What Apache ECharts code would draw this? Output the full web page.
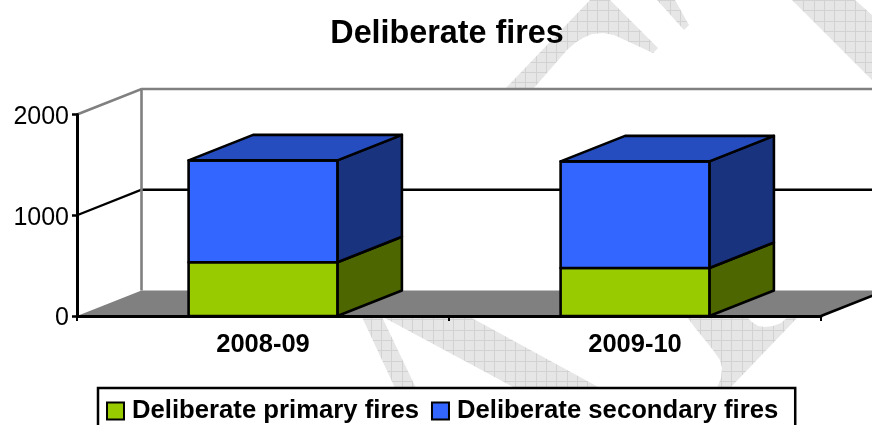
<!DOCTYPE html>
<html><head><meta charset="utf-8">
<style>html,body{margin:0;padding:0;background:#fff;overflow:hidden}#c{width:872px;height:425px}</style>
<script src="https://cdn.jsdelivr.net/npm/echarts@6/dist/echarts.min.js"></script>
</head><body><div id="c"></div>
<script>
const categories = ['2008-09', '2009-10'];
const primaryFires = [533, 476];
const secondaryFires = [1012, 1059];
const yTicks = [0, 1000, 2000];
const seriesNames = ['Deliberate primary fires', 'Deliberate secondary fires'];

const DX = 64.5, DY = -25.5;
const FONT = '"Liberation Sans", Arial, sans-serif';

const pc = document.createElement('canvas');
pc.width = 103; pc.height = 103;
(function () {
  const g = pc.getContext('2d');
  g.fillStyle = '#e6e6e6'; g.fillRect(0, 0, pc.width, pc.height);
  g.fillStyle = '#d2d2d2';
  for (let i = 0; i < 10; i++) {
    const p = Math.round(i * 10.3);
    g.fillRect(p, 0, 1, pc.height);
    g.fillRect(0, p, pc.width, 1);
  }
})();
const hatch = { image: pc, repeat: 'repeat' };
function wm(points) {
  return { type: 'polygon', silent: true, z: 0, shape: { points }, style: { fill: hatch } };
}
const watermark = [
  wm([[505,89],[590,0],[610,0],[658,48],[653,53],[640,47],[627,41],[614,35],[603,33],[592,34],[583,38],[575,43],[567,50],[533,89]]),
  wm([[657,0],[675,0],[689,25],[684,30]]),
  wm([[792,0],[855,0],[872,15],[872,80]]),
  wm([[362,317],[382,317],[416,388],[395,388]]),
  wm([[383,317],[470,317],[600,388],[515,388]]),
  wm([[687,317],[747,317],[752,322],[758,326],[765,327],[773,326],[781,323],[788,317],[798,317],[730,388],[717,388],[721,378],[722,368],[720,360],[713,350],[705,340],[696,329]])
];

function renderWalls(params, api) {
  const cs = params.coordSys;
  const x0 = cs.x, x1 = cs.x + cs.width;
  const y = v => api.coord([0, v])[1];
  const bot = y(yTicks[0]), top = y(yTicks[yTicks.length - 1]);
  const children = [];
  children.push({ type: 'polygon', shape: { points: [[x0, bot], [x0 + DX, bot + DY], [x0 + DX, top + DY], [x1 + DX, top + DY], [x1 + DX, bot + DY], [x1, bot]] }, style: { fill: '#fff' } });
  children.push({ type: 'polygon', shape: { points: [[x0, top], [x0 + DX, top + DY], [x0 + DX, bot + DY], [x0, bot]] }, style: { fill: '#fff' } });
  children.push({ type: 'polygon', shape: { points: [[x0, bot], [x0 + DX, bot + DY], [x1 + DX, bot + DY], [x1, bot]] }, style: { fill: '#808080' } });
  yTicks.forEach(t => {
    const yy = y(t);
    const last = t === yTicks[yTicks.length - 1];
    if (t === yTicks[0]) return;
    children.push({ type: 'polyline', shape: { points: [[x0, yy], [x0 + DX, yy + DY], [x1 + DX, yy + DY]] }, style: { fill: 'none', stroke: last ? '#808080' : '#000', lineWidth: last ? 2.6 : 2.4 } });
  });
  children.push({ type: 'line', shape: { x1: x0 + DX, y1: bot + DY, x2: x0 + DX, y2: top + DY }, style: { stroke: '#808080', lineWidth: 2.6 } });
  children.push({ type: 'line', shape: { x1: x1, y1: bot, x2: x1 + DX, y2: bot + DY }, style: { stroke: '#000', lineWidth: 2.6 } });
  return { type: 'group', children };
}

function renderBar(front, top, side, showTop) {
  return function (params, api) {
    const pBase = api.coord([api.value(0), api.value(1)]);
    const pTop = api.coord([api.value(0), api.value(2)]);
    const w = api.size([1, 0])[0] * 0.4;
    const l = pBase[0] - w / 2, r = pBase[0] + w / 2;
    const yb = pBase[1], yt = pTop[1];
    const st = { stroke: '#000', lineWidth: 2.6, lineJoin: 'round' };
    const children = [
      { type: 'polygon', shape: { points: [[r, yb], [r + DX, yb + DY], [r + DX, yt + DY], [r, yt]] }, style: { fill: side, ...st } },
      { type: 'polygon', shape: { points: [[l, yb], [r, yb], [r, yt], [l, yt]] }, style: { fill: front, ...st } }
    ];
    if (showTop) children.push({ type: 'polygon', shape: { points: [[l, yt], [r, yt], [r + DX, yt + DY], [l + DX, yt + DY]] }, style: { fill: top, ...st } });
    return { type: 'group', children };
  };
}

const primaryData = categories.map((c, i) => [i, 0, primaryFires[i]]);
const secondaryData = categories.map((c, i) => [i, primaryFires[i], primaryFires[i] + secondaryFires[i]]);

const chart = echarts.init(document.getElementById('c'), null, { renderer: 'canvas' });
chart.setOption({
  animation: false,
  backgroundColor: '#fff',
  title: { text: 'Deliberate fires', left: 442, top: 13, textAlign: 'center',
    textStyle: { fontFamily: FONT, fontSize: 32.3, fontWeight: 'bold', color: '#000' } },
  graphic: watermark,
  grid: { left: 77, top: 114.5, width: 744, height: 201.5, containLabel: false },
  xAxis: { type: 'category', data: categories, z: 5,
    axisLine: { lineStyle: { color: '#000', width: 3 } },
    axisTick: { show: true, length: 5, alignWithLabel: false, lineStyle: { color: '#000', width: 2 } },
    axisLabel: { margin: 16, color: '#000', fontFamily: FONT, fontSize: 25.5, fontWeight: 'bold', interval: 0 } },
  yAxis: { type: 'value', min: 0, max: 2000, interval: 1000, z: 5,
    splitLine: { show: false },
    axisLine: { show: true, lineStyle: { color: '#000', width: 3 } },
    axisTick: { show: true, length: 5, lineStyle: { color: '#000', width: 2.5 } },
    axisLabel: { margin: 8, color: '#000', fontFamily: FONT, fontSize: 25,
      formatter: v => '{a|' + v + '}',
      rich: { a: { fontFamily: FONT, fontSize: 25, color: '#000', padding: [5, 0, 0, 0] } } } },
  legend: {
    data: seriesNames, left: 98, top: 388, orient: 'horizontal',
    padding: [10, 17, 30, 8], itemGap: 12, itemWidth: 17, itemHeight: 17,
    icon: 'rect', backgroundColor: '#fff', borderColor: '#000', borderWidth: 2.5, z: 8,
    selectedMode: false,
    textStyle: { fontFamily: FONT, fontSize: 25.7, fontWeight: 'bold', color: '#000', padding: [0, 0, 0, 3] }
  },
  series: [
    { type: 'custom', name: 'walls', z: 1, silent: true, data: [[0, 0]], encode: { x: 0, y: 1 }, renderItem: renderWalls },
    { type: 'custom', name: seriesNames[0], z: 2, data: primaryData, encode: { x: 0, y: [1, 2] },
      itemStyle: { color: '#99cc00', borderColor: '#000', borderWidth: 2.5 },
      renderItem: renderBar('#99cc00', '#7aa300', '#4d6600', false) },
    { type: 'custom', name: seriesNames[1], z: 3, data: secondaryData, encode: { x: 0, y: [1, 2] },
      itemStyle: { color: '#3366ff', borderColor: '#000', borderWidth: 2.5 },
      renderItem: renderBar('#3366ff', '#264dbf', '#1a337f', true) }
  ]
});
</script></body></html>
